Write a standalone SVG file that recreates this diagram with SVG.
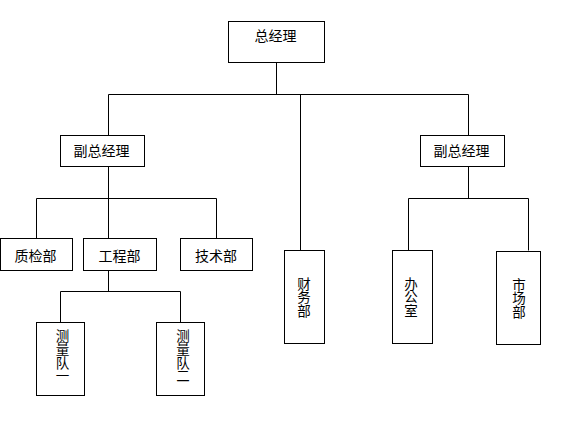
<svg xmlns="http://www.w3.org/2000/svg" width="565" height="427" viewBox="0 0 565 427">
<style>
.bg{fill:#fff}
.box{fill:#fff;stroke:#000;stroke-width:1}
.ln{fill:none;stroke:#000;stroke-width:1}
.t{font-family:"Noto Sans CJK SC","Noto Sans CJK JP",sans-serif;font-size:14px;fill:#000;text-anchor:middle}
.v{writing-mode:vertical-rl;font-size:13.5px}
</style>
<rect class="bg" x="0" y="0" width="565" height="427"/>
<g id="connectors">
<path class="ln" d="M276.5,62.5V94.5M108.5,94.5H468.5M108.5,94.5V135.5M468.5,94.5V135.5M300.5,94.5V250.5"/>
<path class="ln" d="M108.5,166.5V198.5M36.5,198.5H216.5M36.5,198.5V238.5M108.5,198.5V238.5M216.5,198.5V238.5"/>
<path class="ln" d="M468.5,166.5V198.5M408.5,198.5H528.5M408.5,198.5V250.5M528.5,198.5V250.5"/>
<path class="ln" d="M108.5,270.5V291.5M60.5,291.5H180.5M60.5,291.5V322.5M180.5,291.5V322.5"/>
</g>
<g id="gm"><rect class="box" x="228.5" y="21.5" width="96" height="41"/><text class="t" x="275.5" y="41">总经理</text></g>
<g id="vp-left"><rect class="box" x="60.5" y="135.5" width="84" height="31"/><text class="t" x="101.5" y="156">副总经理</text></g>
<g id="vp-right"><rect class="box" x="420.5" y="135.5" width="84" height="31"/><text class="t" x="461.5" y="156">副总经理</text></g>
<g id="qc"><rect class="box" x="0.5" y="238.5" width="72" height="32"/><text class="t" x="35.5" y="261">质检部</text></g>
<g id="eng"><rect class="box" x="83.5" y="238.5" width="73" height="32"/><text class="t" x="119.5" y="261">工程部</text></g>
<g id="tech"><rect class="box" x="180.5" y="238.5" width="72" height="32"/><text class="t" x="216" y="261">技术部</text></g>
<g id="survey1"><rect class="box" x="36.5" y="322.5" width="48" height="73"/><text class="t v" x="62.5" y="356">测量队一</text></g>
<g id="survey2"><rect class="box" x="156.5" y="322.5" width="48" height="73"/><text class="t v" x="183" y="356">测量队二</text></g>
<g id="finance"><rect class="box" x="284.5" y="250.5" width="40" height="93"/><text class="t v" x="304" y="297">财务部</text></g>
<g id="office"><rect class="box" x="392.5" y="250.5" width="40" height="93"/><text class="t v" x="411" y="297">办公室</text></g>
<g id="market"><rect class="box" x="496.5" y="251.5" width="44" height="93"/><text class="t v" x="519" y="298">市场部</text></g>
</svg>
